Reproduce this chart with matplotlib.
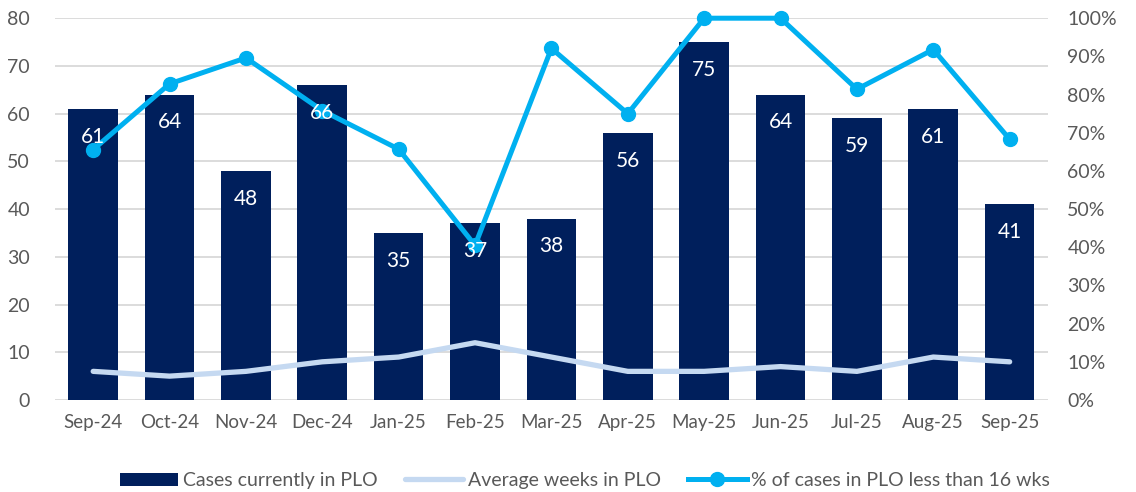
import matplotlib.pyplot as plt
from matplotlib.ticker import PercentFormatter

months = ["Sep-24", "Oct-24", "Nov-24", "Dec-24", "Jan-25", "Feb-25", "Mar-25",
          "Apr-25", "May-25", "Jun-25", "Jul-25", "Aug-25", "Sep-25"]
cases = [61, 64, 48, 66, 35, 37, 38, 56, 75, 64, 59, 61, 41]
avg_weeks = [6, 5, 6, 8, 9, 12, 9, 6, 6, 7, 6, 9, 8]
pct_under_16 = [65.6, 82.8, 89.6, 75.8, 65.7, 40.5, 92.1, 75.0, 100, 100, 81.4, 91.8, 68.3]

navy = "#001F5C"
light = "#C5D9F1"
cyan = "#00B0F0"
grey = "#595959"

plt.rcParams['font.family'] = ['Lato', 'DejaVu Sans']

fig = plt.figure(figsize=(11.36, 4.92), dpi=100)
ax1 = fig.add_axes([0.0484, 0.187, 0.874, 0.776])
ax2 = ax1.twinx()

x = list(range(len(months)))
bars = ax1.bar(x, cases, width=0.65, color=navy, zorder=2, label="Cases currently in PLO")
avg_line, = ax1.plot(x, avg_weeks, color=light, lw=3.8, zorder=3, solid_capstyle='round',
                     label="Average weeks in PLO")
pct_line, = ax2.plot(x, pct_under_16, color=cyan, lw=3.6, marker='o', markersize=10,
                     zorder=3, clip_on=False, label="% of cases in PLO less than 16 wks")

# data labels on top of everything
for i, v in enumerate(cases):
    ax2.annotate(str(v), xy=(i, v), xycoords=ax1.transData, xytext=(0, -20),
                 textcoords='offset points', ha='center', va='center',
                 color='white', fontsize=15, zorder=5)

ax1.set_xlim(-0.5, len(months) - 0.5)
ax1.set_ylim(0, 80)
ax1.set_yticks(range(0, 81, 10))
ax2.set_ylim(0, 100)
ax2.set_yticks(range(0, 101, 10))
ax2.yaxis.set_major_formatter(PercentFormatter(decimals=0))

ax1.set_xticks(x)
ax1.set_xticklabels(months)
ax1.grid(axis='y', color='#D9D9D9', lw=1.3, zorder=0)
ax1.set_axisbelow(True)

for ax in (ax1, ax2):
    for s in ax.spines.values():
        s.set_visible(False)
    ax.tick_params(length=0, labelsize=14, colors=grey)
ax1.tick_params(axis='y', pad=18)
ax1.tick_params(axis='x', pad=10, labelsize=13.5)
ax2.tick_params(axis='y', pad=14)

fig.legend([bars, avg_line, pct_line],
           [bars.get_label(), avg_line.get_label(), pct_line.get_label()],
           loc='lower center', bbox_to_anchor=(0.515, -0.03),
           ncol=3, frameon=False, fontsize=14, handlelength=3.0,
           columnspacing=1.4, handletextpad=0.25, labelcolor=grey)

fig.savefig("out.png", dpi=100)
